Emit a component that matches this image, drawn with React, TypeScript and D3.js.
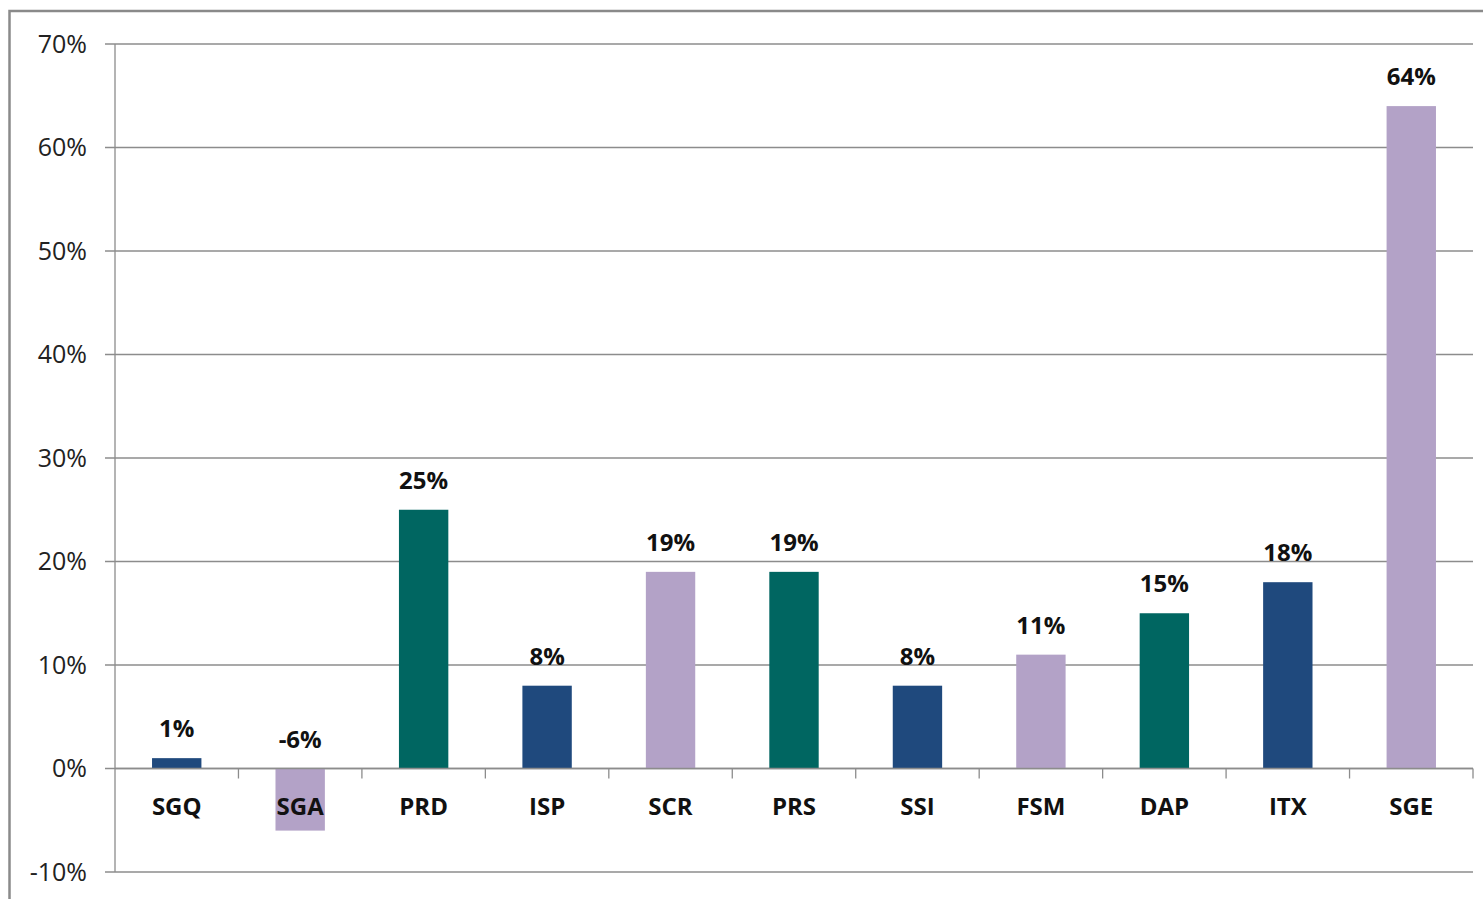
import React from "react";
import { scaleLinear, scaleBand, range } from "d3";

const categories = ["SGQ", "SGA", "PRD", "ISP", "SCR", "PRS", "SSI", "FSM", "DAP", "ITX", "SGE"];
const values = [1, -6, 25, 8, 19, 19, 8, 11, 15, 18, 64];
const palette = ["#1F497D", "#B3A2C7", "#006661"];
const yTicks = [-10, 0, 10, 20, 30, 40, 50, 60, 70];

const W = 1483;
const H = 899;
const left = 115;
const right = 1473;
const top = 44;
const bottom = 872;
const grid = "#8c8c8c";
const font = "'Open Sans', 'Noto Sans', sans-serif";

const App = () => {
  const x = scaleBand<string>().domain(categories).range([left, right]).paddingInner(0).paddingOuter(0);
  const y = scaleLinear().domain([-10, 70]).range([bottom, top]);
  const barW = x.bandwidth() * 0.4;
  const y0 = y(0);

  const gridlines = yTicks.map((t) => (
    <g key={t}>
      <line x1={left - 10} x2={right} y1={y(t)} y2={y(t)} stroke={grid} strokeWidth={1.3} />
      <text x={87} y={y(t) + 8.5} textAnchor="end" fontSize={25} fill="#222" fontFamily={font}>
        {t}%
      </text>
    </g>
  ));

  const boundaries = range(categories.length + 1).map((i) => left + i * x.step());
  const catTicks = boundaries.slice(1).map((bx, i) => (
    <line key={i} x1={bx} x2={bx} y1={y0} y2={y0 + 10} stroke={grid} strokeWidth={1.3} />
  ));

  const bars = categories.map((c, i) => {
    const v = values[i];
    const cx = (x(c) as number) + x.bandwidth() / 2;
    return (
      <rect
        key={c}
        x={cx - barW / 2}
        y={y(Math.max(v, 0))}
        width={barW}
        height={Math.abs(y(v) - y0)}
        fill={palette[i % 3]}
      />
    );
  });

  const valueLabels = categories.map((c, i) => {
    const v = values[i];
    const cx = (x(c) as number) + x.bandwidth() / 2;
    return (
      <text key={c} x={cx} y={y(Math.max(v, 0)) - 21} textAnchor="middle" fontSize={24} fontWeight="bold" fill="#111" fontFamily={font}>
        {v}%
      </text>
    );
  });

  const catLabels = categories.map((c) => (
    <text key={c} x={(x(c) as number) + x.bandwidth() / 2} y={815} textAnchor="middle" fontSize={24} fontWeight="bold" fill="#111" fontFamily={font}>
      {c}
    </text>
  ));

  return (
    <svg width={W} height={H} viewBox={`0 0 ${W} ${H}`} style={{ position: "absolute", left: 0, top: 0, background: "#fff" }}>
      <rect x={9.5} y={11} width={W + 20} height={H + 20} fill="#fff" stroke="#8a8a8a" strokeWidth={2.5} />
      {gridlines}
      <line x1={left} x2={left} y1={top} y2={bottom} stroke={grid} strokeWidth={1.3} />
      {bars}
      <line x1={left} x2={right} y1={y0} y2={y0} stroke={grid} strokeWidth={1.3} />
      {catTicks}
      {valueLabels}
      {catLabels}
    </svg>
  );
};

export default App;
